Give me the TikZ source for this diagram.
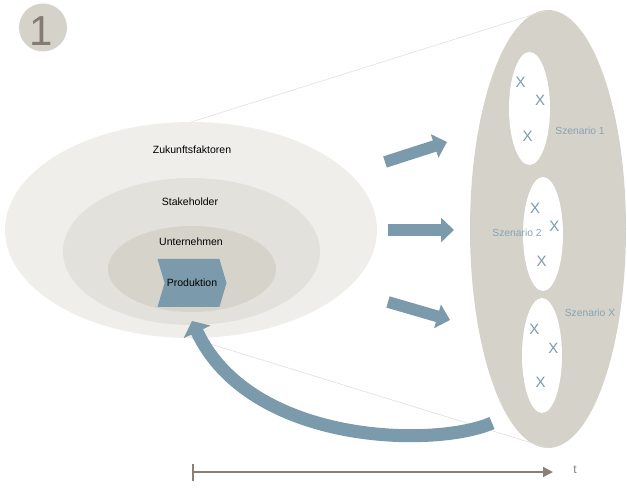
\documentclass[tikz,border=0pt]{standalone}
\usepackage{fontspec}
\setmainfont{Liberation Sans}
\usetikzlibrary{arrows.meta,shapes.geometric,shapes.symbols}
\definecolor{layA}{RGB}{239,238,234}
\definecolor{layB}{RGB}{227,225,219}
\definecolor{layC}{RGB}{214,211,203}
\definecolor{bigc}{RGB}{213,210,201}
\definecolor{arc}{RGB}{123,154,172}
\definecolor{lblc}{RGB}{135,163,180}
\definecolor{axc}{RGB}{138,128,120}
\definecolor{thinc}{RGB}{226,223,216}
\definecolor{onec}{RGB}{133,123,115}
\begin{document}
\begin{tikzpicture}[x=1pt,y=-1pt,
  ell/.style={ellipse, draw=none, inner sep=0pt, outer sep=0pt},
  lbl/.style={font=\fontsize{10.5}{12}\selectfont, text=black, inner sep=0pt},
  scen/.style={font=\fontsize{10.3}{12}\selectfont, text=lblc, inner sep=0pt},
  xm/.style={font=\fontsize{15}{16}\selectfont, text=arc, inner sep=0pt},
  thinl/.style={draw=thinc, line width=0.6pt},
  blk/.style={draw=arc, line width=11.7pt, -{Triangle[length=13pt,width=24pt]}},
  feedarrow/.style={draw=arc, line width=13pt, -{Triangle[length=12pt,width=29pt]}},
  timeaxis/.style={draw=axc, line width=1.8pt, {Bar[width=17pt,line width=1.8pt]}-{Triangle[length=10pt,width=10pt]}}
]
\useasboundingbox (0,0) rectangle (627,489);

% circle with 1
\node[circle, fill=bigc, minimum size=48pt, inner sep=0pt] (one) at (43,27.5) {};
\node[font=\fontsize{42}{42}\selectfont, text=onec, inner sep=0pt] (onetxt) at (41.5,31) {1};

% nested ellipses
\node[ell, fill=layA, minimum width=372pt, minimum height=216pt] (outer) at (191,230) {};
\node[ell, fill=layB, minimum width=257pt, minimum height=147pt] (stake) at (191.5,251.5) {};
\node[ell, fill=layC, minimum width=168pt, minimum height=86pt] (unter) at (192,269) {};

% big scenario ellipse
\node[ell, fill=bigc, minimum width=156pt, minimum height=438pt] (big) at (548,229) {};

% thin connecting lines
\draw[thinl] (outer.north) -- (big.north);
\draw[thinl] (outer.south) -- (big.south);

% labels
\node[lbl] (zuk) at (192,150) {Zukunftsfaktoren};
\node[lbl] (sth) at (190,202) {Stakeholder};
\node[lbl] (unt) at (191,242) {Unternehmen};

% Produktion chevron
\node[signal, signal to=east, signal from=west, signal pointer angle=147,
      fill=arc, minimum width=69pt, minimum height=48pt, inner sep=0pt,
      font=\fontsize{10.5}{12}\selectfont] (prod) at (192,283) {Produktion};

% white scenario ellipses
\node[ell, fill=white, minimum width=41pt, minimum height=113pt] (w1) at (529.5,108.5) {};
\node[ell, fill=white, minimum width=40pt, minimum height=114pt] (w2) at (543,234) {};
\node[ell, fill=white, minimum width=40pt, minimum height=115pt] (w3) at (542,355.5) {};

% X marks
\node[xm] (x11) at (520.7,82.3) {X};
\node[xm] (x12) at (540,100.7) {X};
\node[xm] (x13) at (527.7,136.7) {X};
\node[xm] (x21) at (535,208) {X};
\node[xm] (x22) at (554.3,226.7) {X};
\node[xm] (x23) at (541.7,261.7) {X};
\node[xm] (x31) at (534.3,329.3) {X};
\node[xm] (x32) at (553.3,348.3) {X};
\node[xm] (x33) at (540.7,382.7) {X};

% scenario labels
\node[scen] (s1) at (580,131) {Szenario 1};
\node[scen] (s2) at (517,233) {Szenario 2};
\node[scen] (s3) at (590,313) {Szenario X};

% block arrows
\coordinate (a1s) at (385,162);
\coordinate (a1e) at (447,142);
\coordinate (a2s) at (388,230);
\coordinate (a2e) at (454,230);
\coordinate (a3s) at (388,302);
\coordinate (a3e) at (450,320);
\draw[blk] (a1s) -- (a1e);
\draw[blk] (a2s) -- (a2e);
\draw[blk] (a3s) -- (a3e);

% curved feedback arrow
\coordinate (cs) at (492,423);
\coordinate (ce) at (192,321);
\draw[feedarrow] (cs) .. controls (435,448) and (250,445) .. (ce);

% time axis
\coordinate (ax0) at (192,472);
\coordinate (ax1) at (553,472);
\draw[timeaxis] (ax0) -- (ax1);
\node[font=\fontsize{12}{12}\selectfont, text=axc, inner sep=0pt] (tlbl) at (575,470) {t};
\end{tikzpicture}
\end{document}
